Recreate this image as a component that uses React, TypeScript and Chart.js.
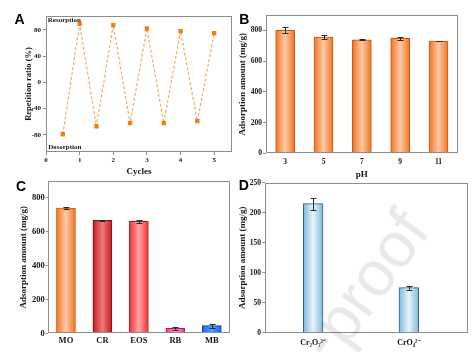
import React, { useEffect, useRef } from 'react';
import { Chart, registerables } from 'chart.js';

Chart.register(...registerables);

// ---------- data ----------
const cycleX = [0.5, 1, 1.5, 2, 2.5, 3, 3.5, 4, 4.5, 5];
const repetitionRatio = [-79, 89, -67, 87, -62, 82, -62, 78, -59, 75];
const cycleTicks = [0, 1, 2, 3, 4, 5];
const ratioTicks = [-80, -40, 0, 40, 80];

const phLabels = ['3', '5', '7', '9', '11'];
const phAdsorption = [800, 757, 738, 748, 731];
const phError = [20, 11, 3, 9, 3];
const phTicks = [0, 200, 400, 600, 800];

const dyeLabels = ['MO', 'CR', 'EOS', 'RB', 'MB'];
const dyeAdsorption = [740, 668, 662, 30, 45];
const dyeError = [4, 2, 8, 8, 12];
const dyeTicks = [0, 200, 400, 600, 800];

const ionLabels = ['Cr\u2082O\u2087\u00B2\u207B', 'CrO\u2084\u00B2\u207B'];
const ionX = [1, 2];
const ionAdsorption = [215, 75];
const ionError = [10, 3];
const ionTicks = [0, 50, 100, 150, 200, 250];

// ---------- styles ----------
const SERIF = "'Liberation Serif', 'Times New Roman', serif";
const SANS = "'Liberation Sans', Arial, sans-serif";
const FRAME = '#8c8c8c';
const TXT = '#151515';

const orangeEdge = ['#f07420'];
const orangeLight = ['#fdcaa6'];
const orangeBorder = '#c85a10';

const dyeEdge = ['#f07420', '#c41a22', '#f0303a', '#e43c98', '#1862e8'];
const dyeLight = ['#fdcaa6', '#f07a7a', '#ffa4a4', '#ff9ad0', '#4aa6ff'];
const dyeBorder = ['#c85a10', '#7a1015', '#b02028', '#a02068', '#103e98'];

const ionEdge = ['#7fb7d8'];
const ionLight = ['#e8f4fb'];
const ionBorder = '#35607f';

// ---------- plugins ----------
const framePlugin = {
  id: 'frame',
  afterDraw(chart: any) {
    const { ctx, chartArea: a } = chart;
    ctx.save();
    ctx.strokeStyle = FRAME;
    ctx.lineWidth = 1;
    const l = Math.round(a.left) + 0.5;
    const t = Math.round(a.top) + 0.5;
    const r = Math.round(a.right) - 0.5;
    const b = Math.round(a.bottom) - 0.5;
    ctx.strokeRect(l, t, r - l, b - t);
    ctx.restore();
  },
};

const errorBarPlugin = {
  id: 'errorBars',
  afterDatasetsDraw(chart: any, _args: any, opts: any) {
    const errs: number[] | undefined = opts && opts.errors;
    if (!errs) return;
    const meta = chart.getDatasetMeta(0);
    const ys = chart.scales.y;
    const raw = chart.data.datasets[0].data;
    const ctx = chart.ctx;
    ctx.save();
    ctx.strokeStyle = '#2a2a2a';
    ctx.lineWidth = 1;
    meta.data.forEach((el: any, i: number) => {
      const v = typeof raw[i] === 'number' ? raw[i] : raw[i].y;
      const e = errs[i];
      if (!e) return;
      const x = Math.round(el.x) + 0.5;
      const yt = Math.round(ys.getPixelForValue(v + e)) + 0.5;
      const yb = Math.round(ys.getPixelForValue(v - e)) + 0.5;
      const w = opts.cap || 3;
      ctx.beginPath();
      ctx.moveTo(x, yt);
      ctx.lineTo(x, yb);
      ctx.moveTo(x - w, yt);
      ctx.lineTo(x + w, yt);
      ctx.moveTo(x - w, yb);
      ctx.lineTo(x + w, yb);
      ctx.stroke();
    });
    ctx.restore();
  },
};

const noteText = { top: 'Resorption', bottom: 'Desorption' };
const notePlugin = {
  id: 'notes',
  afterDraw(chart: any, _args: any, opts: any) {
    if (!opts || !opts.show) return;
    const { ctx, chartArea: a } = chart;
    ctx.save();
    ctx.fillStyle = TXT;
    ctx.font = `bold 7px ${SERIF}`;
    ctx.textBaseline = 'alphabetic';
    ctx.fillText(noteText.top, a.left + 1.8, a.top + 6);
    ctx.fillText(noteText.bottom, a.left + 2.3, a.bottom - 3.5);
    ctx.restore();
  },
};

function barGradient(edge: string[], light: string[], width: number) {
  return (c: any) => {
    const i = c.dataIndex ?? 0;
    const e = edge[i % edge.length];
    const l = light[i % light.length];
    const chart = c.chart;
    const xs = chart && chart.scales && chart.scales.x;
    if (!xs || !c.parsed || !chart.chartArea) return e;
    const cx = xs.getPixelForValue(c.parsed.x);
    if (!isFinite(cx)) return e;
    const g = chart.ctx.createLinearGradient(cx - width / 2, 0, cx + width / 2, 0);
    g.addColorStop(0, e);
    g.addColorStop(0.5, l);
    g.addColorStop(1, e);
    return g;
  };
}

function yAxis(o: any) {
  const lh = o.titleSize * 1.2;
  return {
    min: o.min,
    max: o.max,
    afterBuildTicks: (s: any) => {
      s.ticks = o.ticks.map((v: number) => ({ value: v }));
    },
    afterFit: (s: any) => {
      s.width = o.width;
    },
    border: { display: false },
    grid: { drawOnChartArea: false, drawTicks: true, tickLength: o.tickLen, color: FRAME },
    ticks: { font: { family: SERIF, weight: 'bold', size: o.tickSize }, color: TXT, padding: o.tickPad },
    title: o.title
      ? {
          display: true,
          text: o.title,
          color: TXT,
          font: { family: SERIF, weight: 'bold', size: o.titleSize },
          padding: { top: o.titleCenter - lh / 2, bottom: 0 },
        }
      : { display: false },
  };
}

const baseOpts = {
  animation: false,
  responsive: false,
  maintainAspectRatio: false,
  devicePixelRatio: 1,
  events: [],
};

function cfgA(): any {
  return {
    type: 'line',
    data: {
      datasets: [
        {
          data: cycleX.map((x, i) => ({ x, y: repetitionRatio[i] })),
          borderColor: '#f7a860',
          borderDash: [3, 2],
          borderWidth: 1.2,
          pointStyle: 'rect',
          pointRadius: 2.2,
          pointBackgroundColor: '#f27c12',
          pointBorderColor: '#f27c12',
          tension: 0,
        },
      ],
    },
    plugins: [framePlugin, notePlugin],
    options: {
      ...baseOpts,
      layout: { padding: { left: 0, top: 16, right: 241, bottom: 175 } },
      plugins: { legend: { display: false }, tooltip: { enabled: false }, notes: { show: true } },
      scales: {
        x: {
          type: 'linear',
          min: 0,
          max: 5.53,
          afterBuildTicks: (s: any) => {
            s.ticks = cycleTicks.map((v) => ({ value: v }));
          },
          afterFit: (s: any) => {
            s.height = 25;
          },
          border: { display: false },
          grid: { drawOnChartArea: false, drawTicks: true, tickLength: 3, color: FRAME },
          ticks: {
            font: { family: SERIF, weight: 'bold', size: 7 },
            color: TXT,
            padding: 0.5,
            maxRotation: 0,
            autoSkip: false,
          },
          title: {
            display: true,
            text: 'Cycles',
            color: TXT,
            font: { family: SERIF, weight: 'bold', size: 9 },
            padding: { top: 0, bottom: 0.1 },
          },
        },
        y: yAxis({
          min: -106,
          max: 101,
          ticks: ratioTicks,
          width: 46,
          tickLen: 3,
          tickPad: 2,
          tickSize: 7,
          title: 'Repetition ratio (%)',
          titleSize: 8.5,
          titleCenter: 28.3,
        }),
      },
    },
  };
}

function cfgB(): any {
  return {
    type: 'bar',
    data: {
      labels: phLabels,
      datasets: [
        {
          data: phAdsorption,
          backgroundColor: barGradient(orangeEdge, orangeLight, 19),
          borderColor: orangeBorder,
          borderWidth: 1,
          borderSkipped: 'bottom',
          barThickness: 19,
        },
      ],
    },
    plugins: [framePlugin, errorBarPlugin],
    options: {
      ...baseOpts,
      layout: { padding: { left: 236, top: 15, right: 15.3, bottom: 170 } },
      plugins: { legend: { display: false }, tooltip: { enabled: false }, errorBars: { errors: phError, cap: 3 } },
      scales: {
        x: {
          afterFit: (s: any) => {
            s.height = 28.7;
          },
          border: { display: false },
          grid: { display: false, drawTicks: false, tickLength: 0 },
          ticks: { font: { family: SERIF, weight: 'bold', size: 7.5 }, color: TXT, padding: 4.5, maxRotation: 0 },
          title: {
            display: true,
            text: 'pH',
            color: TXT,
            font: { family: SERIF, weight: 'bold', size: 9 },
            padding: { top: 0, bottom: 2.1 },
          },
        },
        y: yAxis({
          min: 0,
          max: 900,
          ticks: phTicks,
          width: 30,
          tickLen: 3,
          tickPad: 1,
          tickSize: 7.5,
          title: 'Adsorption amount (mg/g)',
          titleSize: 9,
          titleCenter: 6.7,
        }),
      },
    },
  };
}

function cfgC(): any {
  return {
    type: 'bar',
    data: {
      labels: dyeLabels,
      datasets: [
        {
          data: dyeAdsorption,
          backgroundColor: barGradient(dyeEdge, dyeLight, 19),
          borderColor: dyeBorder,
          borderWidth: 1,
          borderSkipped: 'bottom',
          barThickness: 19,
        },
      ],
    },
    plugins: [framePlugin, errorBarPlugin],
    options: {
      ...baseOpts,
      layout: { padding: { left: 0, top: 181, right: 243, bottom: 0 } },
      plugins: { legend: { display: false }, tooltip: { enabled: false }, errorBars: { errors: dyeError, cap: 3 } },
      scales: {
        x: {
          afterFit: (s: any) => {
            s.height = 18.7;
          },
          border: { display: false },
          grid: { display: false, drawTicks: false, tickLength: 0 },
          ticks: { font: { family: SERIF, weight: 'bold', size: 8.5 }, color: TXT, padding: 2.7, maxRotation: 0 },
        },
        y: yAxis({
          min: 0,
          max: 900,
          ticks: dyeTicks,
          width: 47.7,
          tickLen: 2,
          tickPad: 1,
          tickSize: 8.5,
          title: 'Adsorption amount (mg/g)',
          titleSize: 9,
          titleCenter: 23.3,
        }),
      },
    },
  };
}

function cfgD(): any {
  return {
    type: 'bar',
    data: {
      datasets: [
        {
          data: ionX.map((x, i) => ({ x, y: ionAdsorption[i] })),
          backgroundColor: barGradient(ionEdge, ionLight, 19.7),
          borderColor: ionBorder,
          borderWidth: 1,
          borderSkipped: 'bottom',
          barThickness: 19.7,
        },
      ],
    },
    plugins: [framePlugin, errorBarPlugin],
    options: {
      ...baseOpts,
      layout: { padding: { left: 236, top: 182.7, right: 5.3, bottom: 0 } },
      plugins: { legend: { display: false }, tooltip: { enabled: false }, errorBars: { errors: ionError, cap: 3 } },
      scales: {
        x: {
          type: 'linear',
          offset: false,
          min: 0.5,
          max: 2.615,
          afterBuildTicks: (s: any) => {
            s.ticks = ionX.map((v) => ({ value: v }));
          },
          afterFit: (s: any) => {
            s.height = 19.3;
          },
          border: { display: false },
          grid: { display: false, drawTicks: false, tickLength: 0, offset: false },
          ticks: {
            font: { family: SERIF, weight: 'bold', size: 8 },
            color: TXT,
            padding: 5,
            maxRotation: 0,
            autoSkip: false,
            callback: (v: number) => ionLabels[ionX.indexOf(v)] ?? '',
          },
        },
        y: yAxis({
          min: 0,
          max: 250,
          ticks: ionTicks,
          width: 29.3,
          tickLen: 3,
          tickPad: 1.3,
          tickSize: 7.5,
          title: 'Adsorption amount (mg/g)',
          titleSize: 9,
          titleCenter: 6.7,
        }),
      },
    },
  };
}

const panelLetters = [
  { t: 'A', x: 14.5, y: 11.5 },
  { t: 'B', x: 239.3, y: 12.2 },
  { t: 'C', x: 16, y: 178.5 },
  { t: 'D', x: 238.7, y: 178.2 },
];

const watermarkLead = 'Journal Pre-';
const watermarkWord = 'proof';

const canvasStyle: React.CSSProperties = {
  position: 'absolute',
  left: 0,
  top: 0,
  width: 473,
  height: 352,
};

export default function App() {
  const ra = useRef<HTMLCanvasElement>(null);
  const rb = useRef<HTMLCanvasElement>(null);
  const rc = useRef<HTMLCanvasElement>(null);
  const rd = useRef<HTMLCanvasElement>(null);

  useEffect(() => {
    const charts = [
      new Chart(ra.current as HTMLCanvasElement, cfgA()),
      new Chart(rb.current as HTMLCanvasElement, cfgB()),
      new Chart(rc.current as HTMLCanvasElement, cfgC()),
      new Chart(rd.current as HTMLCanvasElement, cfgD()),
    ];
    return () => charts.forEach((c) => c.destroy());
  }, []);

  return (
    <div
      style={{
        position: 'absolute',
        left: 0,
        top: 0,
        width: 473,
        height: 352,
        overflow: 'hidden',
        background: '#ffffff',
      }}
    >
      <canvas ref={ra} width={473} height={352} style={canvasStyle} />
      <canvas ref={rb} width={473} height={352} style={canvasStyle} />
      <canvas ref={rc} width={473} height={352} style={canvasStyle} />
      <canvas ref={rd} width={473} height={352} style={canvasStyle} />
      {panelLetters.map((p) => (
        <span
          key={p.t}
          style={{
            position: 'absolute',
            left: p.x,
            top: p.y,
            fontFamily: SANS,
            fontWeight: 'bold',
            fontSize: 14,
            lineHeight: '14px',
            color: '#000',
          }}
        >
          {p.t}
        </span>
      ))}
      <div
        style={{
          position: 'absolute',
          left: 371,
          top: 277,
          transform: 'translate(-50%, -50%) rotate(-54deg)',
          fontFamily: SANS,
          fontSize: 64,
          lineHeight: '64px',
          color: 'rgba(0,0,0,0.09)',
          whiteSpace: 'nowrap',
          pointerEvents: 'none',
        }}
      >
        <span style={{ position: 'relative' }}>
          <span style={{ position: 'absolute', right: '100%', top: 0 }}>{watermarkLead}</span>
          {watermarkWord}
        </span>
      </div>
    </div>
  );
}
